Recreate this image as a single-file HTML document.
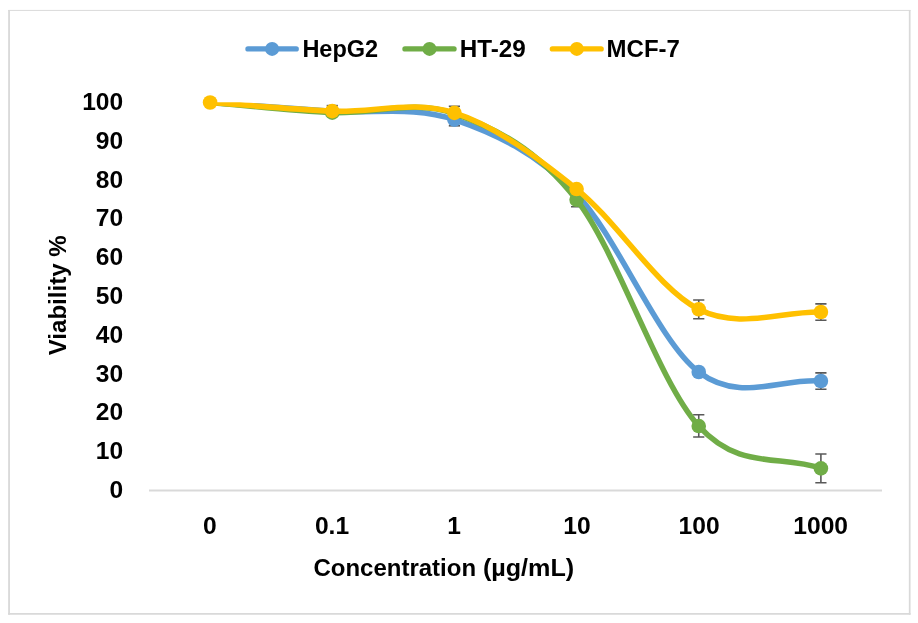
<!DOCTYPE html>
<html><head><meta charset="utf-8"><title>Chart</title>
<style>
html,body{margin:0;padding:0;background:#fff;}
body{width:918px;height:623px;overflow:hidden;position:relative;font-family:"Liberation Sans",sans-serif;}
</style></head><body>
<svg width="918" height="623" viewBox="0 0 918 623" style="position:absolute;left:0;top:0;display:block;will-change:transform">
<path d="M9.05,9.9 V614.85" stroke="#D9D9D9" stroke-width="1.8" fill="none"/>
<path d="M8.15,10.45 H910.55" stroke="#D9D9D9" stroke-width="0.95" fill="none"/>
<path d="M909.7,9.9 V614.85" stroke="#D9D9D9" stroke-width="1.7" fill="none"/>
<path d="M8.15,613.95 H910.55" stroke="#D9D9D9" stroke-width="1.8" fill="none"/>
<line x1="149" y1="490.5" x2="882" y2="490.5" stroke="#D9D9D9" stroke-width="2"/>
<defs><clipPath id="plot"><rect x="140" y="102.3" width="760" height="395"/></clipPath><clipPath id="plot2"><rect x="140" y="103" width="760" height="395"/></clipPath></defs>
<path d="M326.65,105.60 H337.85" stroke="#595959" stroke-width="1.6" fill="none"/>
<path d="M448.80,125.80 H460.00" stroke="#595959" stroke-width="1.6" fill="none"/>
<path d="M820.90,372.90 V389.20 M815.30,372.90 H826.50 M815.30,389.20 H826.50" stroke="#595959" stroke-width="1.6" fill="none"/>
<path d="M210.10,102.50 C250.82,105.40 291.53,108.35 332.25,111.20 C372.97,114.05 413.67,105.72 454.40,119.60 C495.12,133.48 535.88,152.43 576.60,194.50 C617.33,236.57 658.03,340.92 698.75,372.00 C739.47,403.08 780.18,378.00 820.90,381.00" fill="none" stroke="#5B9BD5" stroke-width="5.5" stroke-linecap="round" stroke-linejoin="round" clip-path="url(#plot2)"/>
<circle cx="454.40" cy="119.60" r="7.3" fill="#5B9BD5"/>
<circle cx="698.75" cy="372.00" r="7.3" fill="#5B9BD5"/>
<circle cx="820.90" cy="381.00" r="7.3" fill="#5B9BD5"/>
<path d="M576.60,192.80 V206.80 M571.00,192.80 H582.20 M571.00,206.80 H582.20" stroke="#595959" stroke-width="1.6" fill="none"/>
<path d="M698.75,414.70 V437.00 M693.15,414.70 H704.35 M693.15,437.00 H704.35" stroke="#595959" stroke-width="1.6" fill="none"/>
<path d="M820.90,453.95 V482.70 M815.30,453.95 H826.50 M815.30,482.70 H826.50" stroke="#595959" stroke-width="1.6" fill="none"/>
<path d="M210.10,102.50 C250.82,105.90 291.53,110.85 332.25,112.70 C372.97,114.55 413.67,99.08 454.40,113.60 C495.12,128.12 535.88,147.73 576.60,199.80 C617.33,251.88 658.03,381.28 698.75,426.05 C739.47,470.82 780.18,454.28 820.90,468.40" fill="none" stroke="#70AD47" stroke-width="5.5" stroke-linecap="round" stroke-linejoin="round" clip-path="url(#plot2)"/>
<circle cx="332.25" cy="112.70" r="7.3" fill="#70AD47"/>
<circle cx="576.60" cy="199.80" r="7.3" fill="#70AD47"/>
<circle cx="698.75" cy="426.05" r="7.3" fill="#70AD47"/>
<circle cx="820.90" cy="468.40" r="7.3" fill="#70AD47"/>
<path d="M448.80,106.30 H460.00" stroke="#595959" stroke-width="1.6" fill="none"/>
<path d="M698.75,300.00 V318.70 M693.15,300.00 H704.35 M693.15,318.70 H704.35" stroke="#595959" stroke-width="1.6" fill="none"/>
<path d="M820.90,303.90 V320.20 M815.30,303.90 H826.50 M815.30,320.20 H826.50" stroke="#595959" stroke-width="1.6" fill="none"/>
<path d="M210.10,102.50 C250.82,105.37 291.53,109.37 332.25,111.10 C372.97,112.83 413.67,99.91 454.40,112.90 C495.12,125.89 535.88,156.32 576.60,189.05 C617.33,221.78 658.03,288.81 698.75,309.30 C739.47,329.79 780.18,311.10 820.90,312.00" fill="none" stroke="#FFC000" stroke-width="5.5" stroke-linecap="round" stroke-linejoin="round" clip-path="url(#plot)"/>
<circle cx="210.10" cy="102.50" r="7.3" fill="#FFC000"/>
<circle cx="332.25" cy="111.10" r="7.3" fill="#FFC000"/>
<circle cx="454.40" cy="112.90" r="7.3" fill="#FFC000"/>
<circle cx="576.60" cy="189.05" r="7.3" fill="#FFC000"/>
<circle cx="698.75" cy="309.30" r="7.3" fill="#FFC000"/>
<circle cx="820.90" cy="312.00" r="7.3" fill="#FFC000"/>
<line x1="248.0" y1="48.9" x2="296.2" y2="48.9" stroke="#5B9BD5" stroke-width="5.4" stroke-linecap="round"/>
<circle cx="272.1" cy="48.9" r="7" fill="#5B9BD5"/>
<line x1="405.0" y1="48.9" x2="454.0" y2="48.9" stroke="#70AD47" stroke-width="5.4" stroke-linecap="round"/>
<circle cx="429.5" cy="48.9" r="7" fill="#70AD47"/>
<line x1="552.4" y1="48.9" x2="601.1" y2="48.9" stroke="#FFC000" stroke-width="5.4" stroke-linecap="round"/>
<circle cx="576.8" cy="48.9" r="7" fill="#FFC000"/>
<text transform="translate(302.38,57.00) scale(0.9807,1)" font-family="Liberation Sans, sans-serif" font-weight="bold" font-size="24" fill="#000">HepG2</text>
<text transform="translate(459.73,57.00) scale(1.0119,1)" font-family="Liberation Sans, sans-serif" font-weight="bold" font-size="24" fill="#000">HT-29</text>
<text transform="translate(606.60,57.00) scale(0.9993,1)" font-family="Liberation Sans, sans-serif" font-weight="bold" font-size="24" fill="#000">MCF-7</text>
<text transform="translate(109.56,498.05) scale(1.0240,1)" font-family="Liberation Sans, sans-serif" font-weight="bold" font-size="24" fill="#000">0</text>
<text transform="translate(95.73,459.25) scale(1.0240,1)" font-family="Liberation Sans, sans-serif" font-weight="bold" font-size="24" fill="#000">10</text>
<text transform="translate(95.73,420.45) scale(1.0240,1)" font-family="Liberation Sans, sans-serif" font-weight="bold" font-size="24" fill="#000">20</text>
<text transform="translate(95.73,381.65) scale(1.0240,1)" font-family="Liberation Sans, sans-serif" font-weight="bold" font-size="24" fill="#000">30</text>
<text transform="translate(95.73,342.85) scale(1.0240,1)" font-family="Liberation Sans, sans-serif" font-weight="bold" font-size="24" fill="#000">40</text>
<text transform="translate(95.73,304.05) scale(1.0240,1)" font-family="Liberation Sans, sans-serif" font-weight="bold" font-size="24" fill="#000">50</text>
<text transform="translate(95.73,265.25) scale(1.0240,1)" font-family="Liberation Sans, sans-serif" font-weight="bold" font-size="24" fill="#000">60</text>
<text transform="translate(95.73,226.45) scale(1.0240,1)" font-family="Liberation Sans, sans-serif" font-weight="bold" font-size="24" fill="#000">70</text>
<text transform="translate(95.73,187.65) scale(1.0240,1)" font-family="Liberation Sans, sans-serif" font-weight="bold" font-size="24" fill="#000">80</text>
<text transform="translate(95.73,148.85) scale(1.0240,1)" font-family="Liberation Sans, sans-serif" font-weight="bold" font-size="24" fill="#000">90</text>
<text transform="translate(82.16,110.05) scale(1.0240,1)" font-family="Liberation Sans, sans-serif" font-weight="bold" font-size="24" fill="#000">100</text>
<text transform="translate(203.11,534.00) scale(1.0250,1)" font-family="Liberation Sans, sans-serif" font-weight="bold" font-size="24" fill="#000">0</text>
<text transform="translate(314.90,534.00) scale(1.0250,1)" font-family="Liberation Sans, sans-serif" font-weight="bold" font-size="24" fill="#000">0.1</text>
<text transform="translate(447.30,534.00) scale(1.0250,1)" font-family="Liberation Sans, sans-serif" font-weight="bold" font-size="24" fill="#000">1</text>
<text transform="translate(563.23,534.00) scale(1.0250,1)" font-family="Liberation Sans, sans-serif" font-weight="bold" font-size="24" fill="#000">10</text>
<text transform="translate(678.54,534.00) scale(1.0250,1)" font-family="Liberation Sans, sans-serif" font-weight="bold" font-size="24" fill="#000">100</text>
<text transform="translate(793.33,534.00) scale(1.0250,1)" font-family="Liberation Sans, sans-serif" font-weight="bold" font-size="24" fill="#000">1000</text>
<text transform="translate(313.50,576.40) scale(0.9997,1)" font-family="Liberation Sans, sans-serif" font-weight="bold" font-size="24" fill="#000">Concentration</text>
<text transform="translate(482.89,576.40) scale(1.0486,1)" font-family="Liberation Sans, sans-serif" font-weight="bold" font-size="24" fill="#000">(µg/mL)</text>
<g transform="translate(66.3,355.3) rotate(-90)">
<text transform="translate(0.05,0.00) scale(1.0029,1)" font-family="Liberation Sans, sans-serif" font-weight="bold" font-size="24" fill="#000">Viability %</text>
</g>
</svg>
</body></html>
